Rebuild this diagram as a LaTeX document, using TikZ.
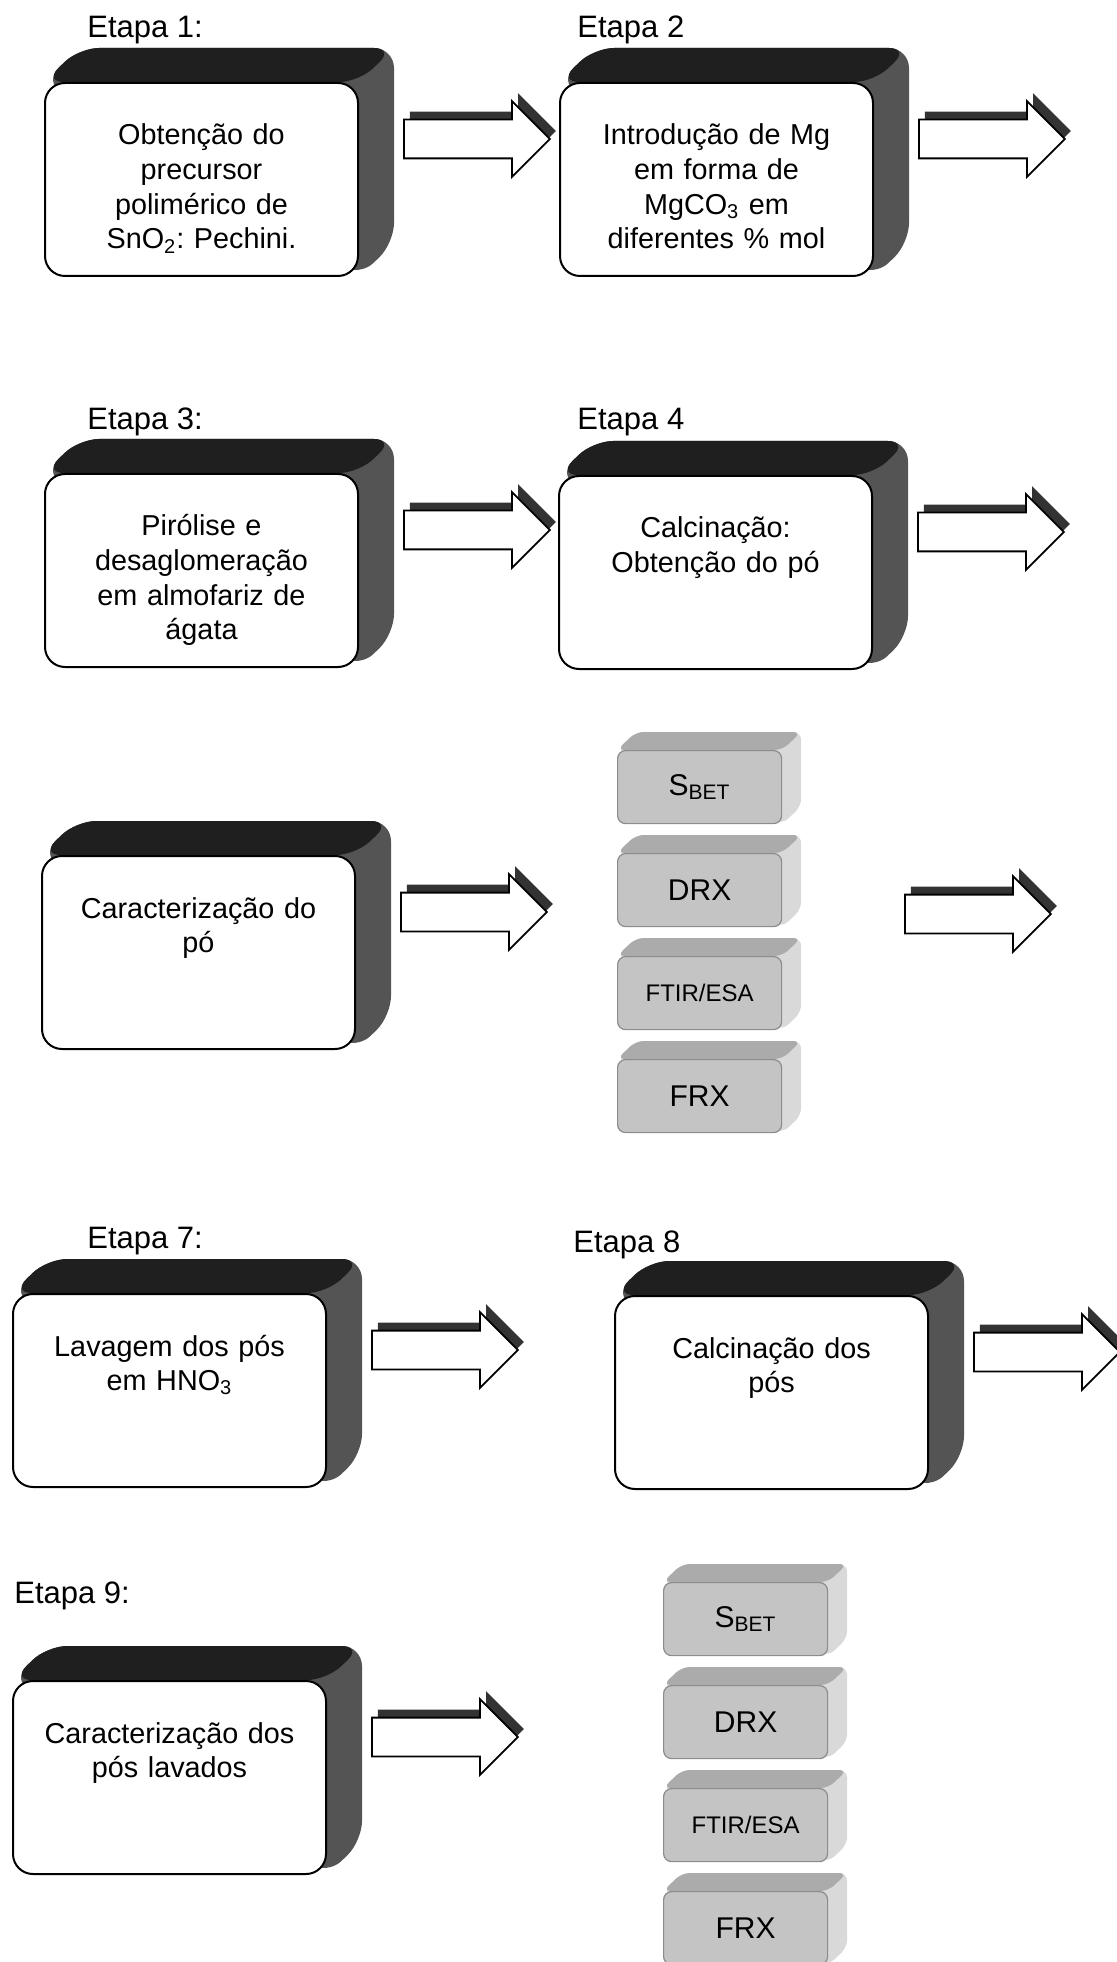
\documentclass[tikz,border=0pt]{standalone}
\usepackage{fontspec}
\setmainfont{Liberation Sans}
\usetikzlibrary{shapes.arrows,shadows,calc,backgrounds}
\frenchspacing

\definecolor{topo}{gray}{0.12}
\definecolor{lado}{gray}{0.33}
\definecolor{cinza}{gray}{0.77}
\definecolor{cinzatopo}{gray}{0.67}
\definecolor{cinzalado}{gray}{0.85}
\definecolor{cinzaborda}{gray}{0.55}

% caixa em relevo: nome, dx, dy, cor do topo, cor do lado, raio
\newcommand{\relevo}[6]{%
  \begin{pgfonlayer}{background}
    \fill[#5, rounded corners=#6] (#1.north west) -- ($(#1.north west)+(#2,-#3)$)
      -- ($(#1.north east)+(#2,-#3)$) -- ($(#1.south east)+(#2,-#3)$) -- (#1.south east) -- cycle;
    \fill[#4, rounded corners=#6] (#1.north west) -- ($(#1.north west)+(#2,-#3)$)
      -- ($(#1.north east)+(#2,-#3)$) -- (#1.north east) -- cycle;
  \end{pgfonlayer}}

\tikzset{
  etapa/.style={draw, line width=1pt, fill=white, rounded corners=10pt, anchor=north west,
    minimum width=156.5pt, text width=150pt, align=center, inner sep=0pt,
    text height=31pt, text depth=65.5pt, font=\fontsize{14.4}{17.3}\selectfont},
  rotulo/.style={anchor=base west, inner sep=0pt, font=\fontsize{15.5}{18}\selectfont},
  ensaio/.style={draw=cinzaborda, line width=0.6pt, fill=cinza, rounded corners=4pt,
    anchor=north west, minimum width=82pt, minimum height=36.5pt, inner sep=0pt,
    font=\fontsize{15}{18}\selectfont},
  seta/.style={single arrow, draw, line width=0.9pt, fill=white, anchor=tail,
    minimum height=73pt, inner xsep=0pt, inner ysep=9.25pt, single arrow head extend=9.25pt,
    general shadow={fill=black!80, shadow xshift=3pt, shadow yshift=4pt}},
}

\begin{document}
\begin{tikzpicture}[x=0.5pt, y=-0.5pt]
  \useasboundingbox (0,0) rectangle (1117,1962);

  % rotulos
  \node[rotulo] (l1) at (87,38) {Etapa 1:};
  \node[rotulo] (l2) at (577,38) {Etapa 2};
  \node[rotulo] (l3) at (87,430) {Etapa 3:};
  \node[rotulo] (l4) at (577,430) {Etapa 4};
  \node[rotulo] (l7) at (87,1248) {Etapa 7:};
  \node[rotulo] (l8) at (573,1252) {Etapa 8};
  \node[rotulo] (l9) at (14,1603) {Etapa 9:};

  % etapas
  \node[etapa] (e1) at (44,82) {Obtenção do\\ precursor\\ polimérico de\\ SnO\textsubscript{2}: Pechini.};
  \node[etapa] (e2) at (559,82) {Introdução de Mg\\ em forma de\\ MgCO\textsubscript{3} em\\ diferentes \% mol};
  \node[etapa] (e3) at (44,473) {Pirólise e\\ desaglomeração\\ em almofariz de\\ ágata};
  \node[etapa] (e4) at (558,475) {Calcinação:\\ Obtenção do pó};
  \node[etapa] (e5) at (41,855) {Caracterização do\\ pó};
  \node[etapa] (e7) at (12,1293) {Lavagem dos pós\\ em HNO\textsubscript{3}};
  \node[etapa] (e8) at (614,1295) {Calcinação dos\\ pós};
  \node[etapa] (e9) at (12,1680) {Caracterização dos\\ pós lavados};
  \foreach \n in {e1,e2,e3,e4,e5,e7,e8,e9} {
    \relevo{\n}{35}{34}{topo}{lado}{10pt}
  }

  % setas
  \foreach \n/\s in {e1/s1,e2/s2,e3/s3,e4/s4,e5/s5,e7/s7,e8/s8,e9/s9} {
    \node[seta] (\s) at ($(\n.north east)+(44,57)$) {};
  }
  \node[seta] (s6) at (904,914) {};

  % ensaios
  \foreach \t [count=\i from 0] in {S\textsubscript{BET}, DRX, {\fontsize{12}{15}\selectfont FTIR/ESA}, FRX} {
    \node[ensaio] (a\i) at (617,{750+103*\i}) {\t};
    \relevo{a\i}{19}{18}{cinzatopo}{cinzalado}{4pt}
    \node[ensaio] (b\i) at (663,{1582+103*\i}) {\t};
    \relevo{b\i}{19}{18}{cinzatopo}{cinzalado}{4pt}
  }
\end{tikzpicture}
\end{document}
